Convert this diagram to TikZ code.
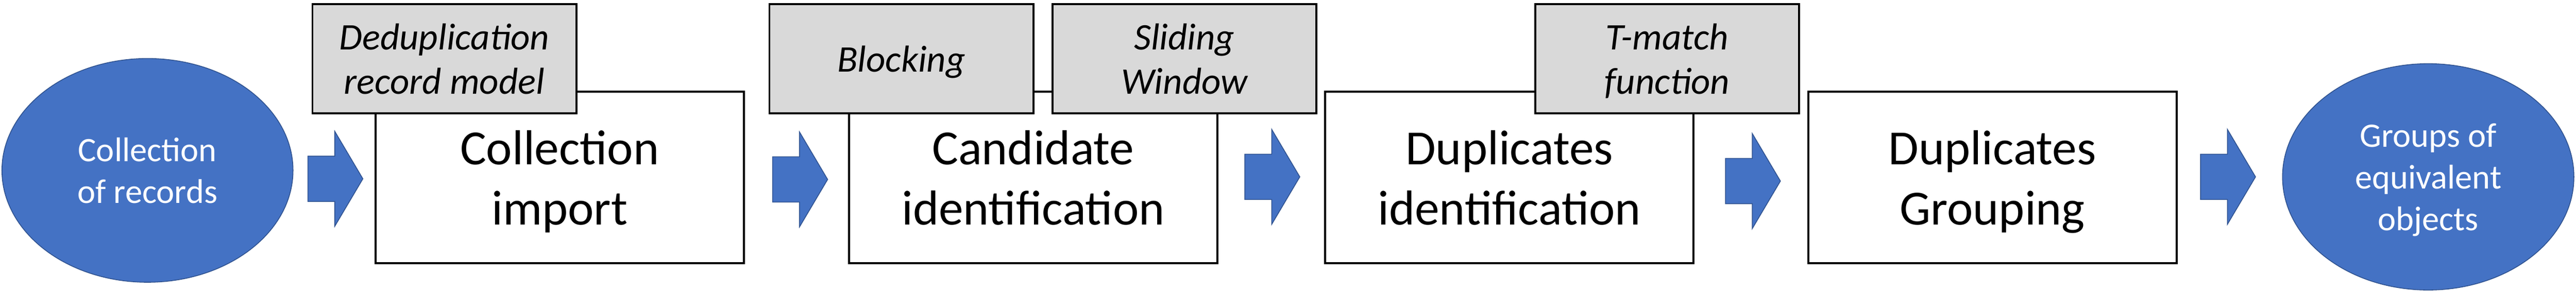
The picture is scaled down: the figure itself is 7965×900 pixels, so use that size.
\documentclass[tikz,border=0pt]{standalone}
\usepackage{fontspec}
\setmainfont{Carlito}
\usetikzlibrary{shapes.geometric}
\definecolor{fillblue}{HTML}{4472C4}
\definecolor{edgeblue}{HTML}{2F528F}
\definecolor{boxgray}{HTML}{D9D9D9}
\tikzset{
  endnode/.style={ellipse, fill=fillblue, draw=edgeblue, line width=2.5pt, text=white,
    align=center, text depth=0pt, font=\fontsize{106}{129}\selectfont, inner sep=0pt},
  stagebox/.style={rectangle, draw=black, fill=white, line width=6pt,
    minimum width=1139pt, minimum height=530pt, align=center, text depth=0pt,
    font=\fontsize{152}{187}\selectfont, inner sep=0pt},
  methodbox/.style={rectangle, draw=black, fill=boxgray, line width=6pt,
    minimum width=816pt, minimum height=338pt, align=center, text depth=0pt,
    font=\fontsize{116}{137}\selectfont\itshape, inner sep=0pt},
  barrow/.style={fill=fillblue, draw=edgeblue, line width=2.5pt, line join=miter}
}
\newcommand{\blockarrow}[1]{%
  \draw[barrow] (#1) ++(0,-70) -- ++(83,0) -- ++(0,-77) -- ++(87,147)
    -- ++(-87,147) -- ++(0,-77) -- ++(-83,0) -- cycle;}
\begin{document}
\begin{tikzpicture}[x=1pt, y=-1pt]
\useasboundingbox (0,0) rectangle (7965,900);
% end nodes
\node[endnode, minimum width=900pt, minimum height=692pt] (src) at (456,527) {Collection\\of records};
\node[endnode, minimum width=901pt, minimum height=700pt] (dst) at (7508,547) {Groups of\\equivalent\\objects};
% arrows
\coordinate (a1) at (952,553);
\coordinate (a2) at (2389,555);
\coordinate (a3) at (3849,547);
\coordinate (a4) at (5335,560);
\coordinate (a5) at (6804,547);
\blockarrow{a1}
\blockarrow{a2}
\blockarrow{a3}
\blockarrow{a4}
\blockarrow{a5}
% stage boxes
\node[stagebox] (imp) at (1730.5,549) {Collection\\import};
\node[stagebox] (cand) at (3194.5,549) {Candidate\\identification};
\node[stagebox] (dupid) at (4667,549) {Duplicates\\identification};
\node[stagebox] (group) at (6160.5,549) {Duplicates\\Grouping};
% method boxes
\node[methodbox] (model) at (1374,182) {Deduplication\\record model};
\node[methodbox] (block) at (2787,182) {Blocking};
\node[methodbox] (slide) at (3662,182) {Sliding\\Window};
\node[methodbox] (tmatch) at (5155,182) {T-match\\function};
\end{tikzpicture}
\end{document}
